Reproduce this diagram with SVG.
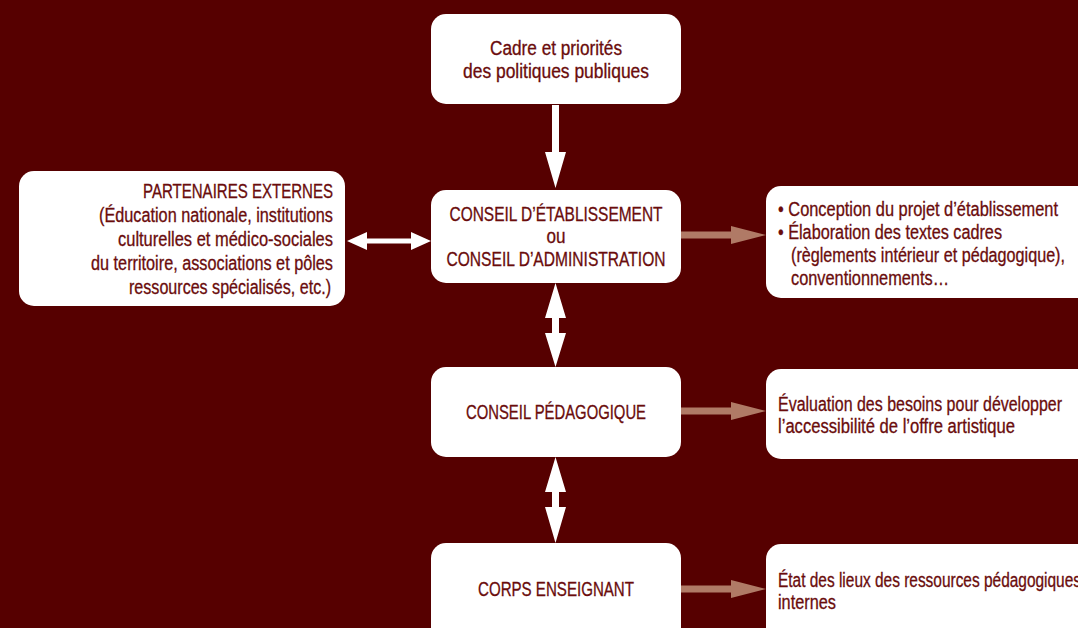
<svg xmlns="http://www.w3.org/2000/svg" width="1078" height="628" viewBox="0 0 1078 628">
<defs>
<style>
.box{fill:#ffffff;}
text{font-family:"Liberation Sans",Arial,sans-serif;font-size:19.5px;fill:#6a0c0c;stroke:#6a0c0c;stroke-width:0.3;}
.c{text-anchor:middle;}
.r{text-anchor:end;}
.wa{fill:#ffffff;}
.ba{fill:#b07a66;}
</style>
</defs>
<rect width="1078" height="628" fill="#560000"/>
<g id="connectors">
<polygon class="wa" points="552,105 559,105 559,152 566,152 555.5,188 545,152 552,152"/>
<polygon class="wa" points="347,241 367,232 367,238.5 411,238.5 411,232 431,241 411,250 411,243.5 367,243.5 367,250"/>
<polygon class="ba" points="681,231.5 731,231.5 731,226 766,235 731,244 731,238.5 681,238.5"/>
<polygon class="wa" points="555.5,283 566,318 559,318 559,333 566,333 555.5,367 545,333 552,333 552,318 545,318"/>
<polygon class="ba" points="681,407.5 731,407.5 731,402 766,411 731,420 731,414.5 681,414.5"/>
<polygon class="wa" points="555.5,457 566,492 559,492 559,507 566,507 555.5,543 545,507 552,507 552,492 545,492"/>
<polygon class="ba" points="681,585.5 731,585.5 731,580 766,589 731,598 731,592.5 681,592.5"/>
</g>
<g id="cadre">
<rect class="box" x="431" y="14" width="250" height="90" rx="15"/>
<text class="c" x="556" y="55" textLength="132" lengthAdjust="spacingAndGlyphs">Cadre et priorités</text>
<text class="c" x="556" y="78" textLength="186" lengthAdjust="spacingAndGlyphs">des politiques publiques</text>
</g>
<g id="partenaires">
<rect class="box" x="19" y="171" width="326" height="135" rx="15"/>
<text class="r" x="333" y="198" textLength="190" lengthAdjust="spacingAndGlyphs">PARTENAIRES EXTERNES</text>
<text class="r" x="333" y="222" textLength="234" lengthAdjust="spacingAndGlyphs">(Éducation nationale, institutions</text>
<text class="r" x="333" y="246" textLength="215" lengthAdjust="spacingAndGlyphs">culturelles et médico-sociales</text>
<text class="r" x="333" y="270" textLength="242" lengthAdjust="spacingAndGlyphs">du territoire, associations et pôles</text>
<text class="r" x="331" y="294" textLength="202" lengthAdjust="spacingAndGlyphs">ressources spécialisés, etc.)</text>
</g>
<g id="conseil-etablissement">
<rect class="box" x="431" y="190" width="250" height="93" rx="15"/>
<text class="c" x="556" y="221" textLength="213" lengthAdjust="spacingAndGlyphs">CONSEIL D’ÉTABLISSEMENT</text>
<text class="c" x="556" y="243" textLength="19" lengthAdjust="spacingAndGlyphs">ou</text>
<text class="c" x="556" y="266" textLength="219" lengthAdjust="spacingAndGlyphs">CONSEIL D’ADMINISTRATION</text>
</g>
<g id="missions-etablissement">
<rect class="box" x="766" y="186" width="330" height="112" rx="15"/>
<text x="778" y="216" textLength="280" lengthAdjust="spacingAndGlyphs">• Conception du projet d’établissement</text>
<text x="778" y="239" textLength="224" lengthAdjust="spacingAndGlyphs">• Élaboration des textes cadres</text>
<text x="791" y="262" textLength="274" lengthAdjust="spacingAndGlyphs">(règlements intérieur et pédagogique),</text>
<text x="791" y="285" textLength="158" lengthAdjust="spacingAndGlyphs">conventionnements…</text>
</g>
<g id="conseil-pedagogique">
<rect class="box" x="431" y="367" width="250" height="90" rx="15"/>
<text class="c" x="556" y="419" textLength="180" lengthAdjust="spacingAndGlyphs">CONSEIL PÉDAGOGIQUE</text>
</g>
<g id="missions-pedagogique">
<rect class="box" x="766" y="369" width="330" height="90" rx="15"/>
<text x="778" y="411" textLength="284" lengthAdjust="spacingAndGlyphs">Évaluation des besoins pour développer</text>
<text x="778" y="433" textLength="237" lengthAdjust="spacingAndGlyphs">l’accessibilité de l’offre artistique</text>
</g>
<g id="corps-enseignant">
<rect class="box" x="431" y="543" width="250" height="100" rx="15"/>
<text class="c" x="556" y="596" textLength="156" lengthAdjust="spacingAndGlyphs">CORPS ENSEIGNANT</text>
</g>
<g id="missions-enseignant">
<rect class="box" x="766" y="544" width="330" height="100" rx="15"/>
<text x="778" y="587" textLength="303" lengthAdjust="spacingAndGlyphs">État des lieux des ressources pédagogiques</text>
<text x="778" y="609" textLength="58" lengthAdjust="spacingAndGlyphs">internes</text>
</g>
</svg>
